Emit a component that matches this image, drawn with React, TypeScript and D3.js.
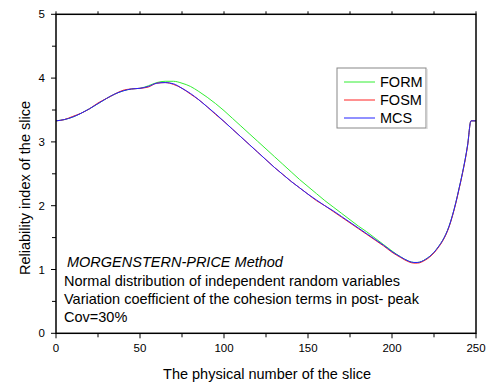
import React from "react";
import * as d3 from "d3";

const xs = [0,5,10,15,20,25,30,35,40,45,50,55,60,65,70,75,80,85,90,95,100,105,110,115,120,125,130,135,140,145,150,155,160,165,170,175,180,185,190,195,200,205,210,213,215,220,225,228,230,232,234,236,238,240,242,245,247,250];

const mcs = [3.33,3.35,3.39,3.45,3.52,3.60,3.68,3.75,3.80,3.83,3.84,3.87,3.92,3.93,3.91,3.84,3.76,3.66,3.55,3.44,3.32,3.20,3.08,2.96,2.84,2.72,2.60,2.49,2.38,2.28,2.18,2.09,2.00,1.92,1.83,1.74,1.65,1.56,1.47,1.38,1.28,1.20,1.13,1.11,1.11,1.16,1.27,1.37,1.45,1.55,1.68,1.85,2.05,2.28,2.52,2.95,3.33,3.33];

const fosm = [3.33,3.35,3.40,3.45,3.52,3.61,3.68,3.75,3.81,3.83,3.84,3.86,3.92,3.93,3.90,3.84,3.75,3.66,3.55,3.43,3.32,3.20,3.08,2.96,2.84,2.72,2.60,2.49,2.38,2.28,2.18,2.08,2.00,1.91,1.82,1.73,1.64,1.55,1.46,1.37,1.27,1.19,1.12,1.10,1.10,1.15,1.26,1.36,1.44,1.54,1.67,1.84,2.04,2.27,2.51,2.94,3.33,3.33];

const form = [3.33,3.35,3.39,3.45,3.52,3.60,3.68,3.75,3.80,3.83,3.84,3.88,3.93,3.95,3.95,3.92,3.87,3.79,3.70,3.60,3.49,3.37,3.25,3.13,3.01,2.89,2.77,2.65,2.53,2.41,2.30,2.19,2.08,1.98,1.88,1.78,1.68,1.59,1.49,1.39,1.29,1.20,1.13,1.11,1.11,1.16,1.27,1.37,1.45,1.55,1.68,1.85,2.05,2.28,2.52,2.95,3.33,3.33];

const seriesNames = ["FORM", "FOSM", "MCS"];
const seriesColors = ["#33ee33", "#ff2222", "#2222ff"];
const seriesData = [form, fosm, mcs];

const xTicks = [0, 50, 100, 150, 200, 250];
const yTicks = [0, 1, 2, 3, 4, 5];
const notes = [
  "Normal distribution of independent random variables",
  "Variation coefficient of the cohesion terms in post- peak",
  "Cov=30%",
];
const title = "MORGENSTERN-PRICE Method";

export default function App() {
  const W = 491, H = 385;
  const L = 56, R = 476, T = 14.3, B = 333.3;
  const x = d3.scaleLinear().domain([0, 250]).range([L, R]);
  const y = d3.scaleLinear().domain([0, 5]).range([B, T]);
  const line = (vals: number[]) =>
    d3.line<number>().curve(d3.curveMonotoneX).x((_, i) => x(xs[i])).y((v) => y(v))(vals) || "";
  const xMinor = d3.range(25, 250, 50);
  const yMinor = d3.range(0.5, 5, 1);
  const font = "'Liberation Sans', Arial, sans-serif";
  return (
    <svg width={W} height={H} style={{ position: "absolute", left: 0, top: 0 }} fontFamily={font}>
      <rect width={W} height={H} fill="#fff" />
      {seriesData.map((s, i) => (
        <path key={i} d={line(s)} fill="none" stroke={seriesColors[i]} strokeWidth={1} />
      ))}
      <rect x={L} y={T} width={R - L} height={B - T} fill="none" stroke="#000" strokeWidth={1.5} />
      {xTicks.map((t) => (
        <g key={t}>
          <line x1={x(t)} x2={x(t)} y1={B} y2={B + 5} stroke="#000" strokeWidth={1} />
          <line x1={x(t)} x2={x(t)} y1={T} y2={T - 3} stroke="#000" strokeWidth={1} />
          <text x={x(t)} y={B + 19} fontSize={11.5} textAnchor="middle">{t}</text>
        </g>
      ))}
      {xMinor.map((t) => (
        <g key={"m" + t}>
          <line x1={x(t)} x2={x(t)} y1={B} y2={B + 4} stroke="#000" strokeWidth={1} />
          <line x1={x(t)} x2={x(t)} y1={T} y2={T - 3} stroke="#000" strokeWidth={1} />
        </g>
      ))}
      {yTicks.map((t) => (
        <g key={"y" + t}>
          <line x1={L} x2={L - 5} y1={y(t)} y2={y(t)} stroke="#000" strokeWidth={1} />
          <text x={L - 11} y={y(t) + 4} fontSize={11.5} textAnchor="end">{t}</text>
        </g>
      ))}
      {yMinor.map((t) => (
        <line key={"ym" + t} x1={L} x2={L - 4} y1={y(t)} y2={y(t)} stroke="#000" strokeWidth={1} />
      ))}
      <text x={267} y={379} fontSize={14.5} textAnchor="middle">The physical number of the slice</text>
      <text transform="translate(30, 188) rotate(-90)" fontSize={14.5} textAnchor="middle">Reliability index of the slice</text>
      <rect x={337} y={68} width={89} height={60} fill="#fff" stroke="#888" strokeWidth={1} />
      <line x1={427} x2={427} y1={69} y2={129} stroke="#ccc" strokeWidth={1} />
      {seriesNames.map((n, i) => (
        <g key={n}>
          <line x1={344} x2={375} y1={82 + i * 18} y2={82 + i * 18} stroke={seriesColors[i]} strokeWidth={1} />
          <text x={380} y={87 + i * 18} fontSize={14.5}>{n}</text>
        </g>
      ))}
      <text x={67} y={267} fontSize={14.5} fontStyle="italic">{title}</text>
      {notes.map((n, i) => (
        <text key={i} x={64} y={286 + i * 18} fontSize={14.5}>{n}</text>
      ))}
    </svg>
  );
}
